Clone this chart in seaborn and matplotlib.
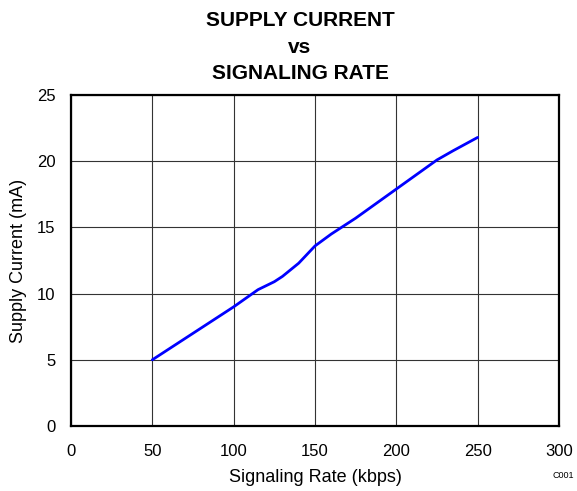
import matplotlib
matplotlib.use('Agg')
import matplotlib.pyplot as plt
import seaborn as sns
import pandas as pd

# values
signaling_rate = [50, 75, 100, 115, 125, 130, 140, 150, 160, 175, 200, 225, 235, 250]
supply_current = [5.0, 7.0, 9.0, 10.3, 10.9, 11.3, 12.3, 13.6, 14.5, 15.7, 17.9, 20.1, 20.8, 21.8]
x_ticks = [0, 50, 100, 150, 200, 250, 300]
y_ticks = [0, 5, 10, 15, 20, 25]

df = pd.DataFrame({'rate': signaling_rate, 'current': supply_current})

sns.set_style('white')
plt.rcParams['font.family'] = ['Liberation Sans', 'DejaVu Sans']
plt.rcParams['text.color'] = 'black'
plt.rcParams['axes.labelcolor'] = 'black'
plt.rcParams['xtick.color'] = 'black'
plt.rcParams['ytick.color'] = 'black'

fig = plt.figure(figsize=(5.77, 4.91), dpi=100)
ax = fig.add_axes([0.123, 0.1324, 0.8458, 0.674])

sns.lineplot(data=df, x='rate', y='current', ax=ax, color='#0000ff', linewidth=2)

ax.set_xlim(0, 300)
ax.set_ylim(0, 25)
ax.set_xticks(x_ticks)
ax.set_yticks(y_ticks)
ax.grid(True, color='#333333', linewidth=0.8)
ax.tick_params(axis='x', length=0, labelsize=12, pad=13)
ax.tick_params(axis='y', length=0, labelsize=12, pad=11)
for s in ax.spines.values():
    s.set_linewidth(1.6)
    s.set_color('black')

ax.set_xlabel('Signaling Rate (kbps)', fontsize=13, labelpad=7)
ax.set_ylabel('Supply Current (mA)', fontsize=13, labelpad=7)
fig.text(0.52, 0.904, 'SUPPLY CURRENT\nvs\nSIGNALING RATE', fontsize=15,
         fontweight='bold', ha='center', va='center', linespacing=1.5)
fig.text(0.995, 0.022, 'C001', fontsize=6.5, ha='right', va='bottom')

fig.savefig('out.png', dpi=100)
